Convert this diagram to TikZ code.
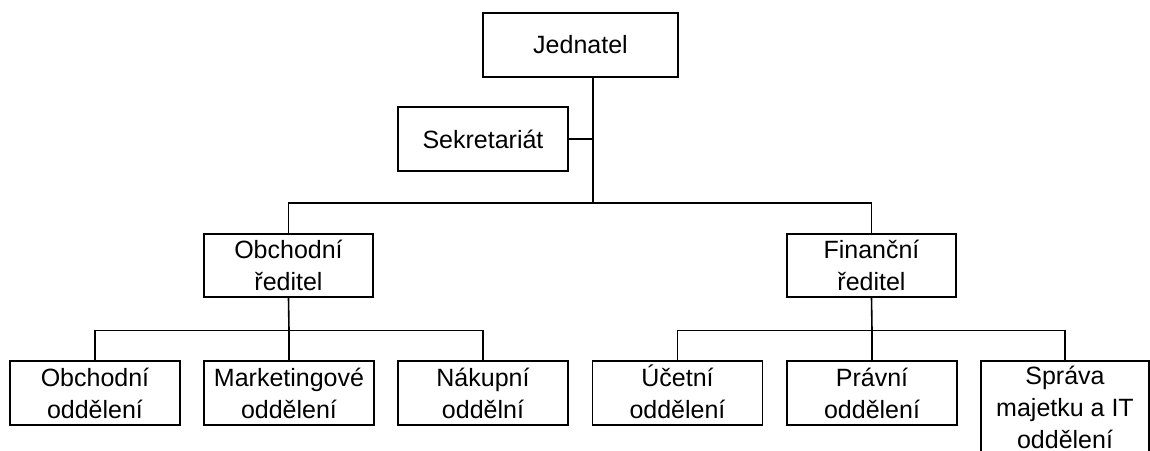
\documentclass[tikz,border=0pt]{standalone}
\usepackage{fontspec}
\setmainfont{Liberation Sans}
\begin{document}
\begin{tikzpicture}[x=1pt,y=-1pt,
  box/.style={draw=black, line width=1.6pt, rectangle, inner sep=0pt, align=center,
    font=\fontsize{25}{32}\selectfont, text=black},
  wbox/.style={box, minimum width=170pt, minimum height=64pt},
  conn/.style={draw=black, line width=1.6pt}]
\useasboundingbox (0,0) rectangle (1150,450);
\clip (0,0) rectangle (1150,450);
\fill[white] (0,0) rectangle (1150,450);
% top
\node[box, minimum width=195pt, minimum height=64pt] (J) at (580.5,45) {Jednatel};
\node[wbox] (S) at (483,139) {Sekretariát};
% directors
\node[box, minimum width=169pt, minimum height=63pt] (O) at (288.5,265.5) {Obchodní\\ředitel};
\node[box, minimum width=169pt, minimum height=63pt] (F) at (871.5,265.5) {Finanční\\ředitel};
% departments
\node[wbox] (d1) at (95,393) {Obchodní\\oddělení};
\node[wbox] (d2) at (289,393) {Marketingové\\oddělení};
\node[wbox] (d3) at (483,393) {Nákupní\\oddělní};
\node[wbox] (d4) at (677.5,393) {\smash{Ú}četní\\oddělení};
\node[wbox] (d5) at (872,393) {Právní\\oddělení};
\node[box, minimum width=168pt, minimum height=92pt] (d6) at (1065,407) {Správa\\majetku a IT\\oddělení};
% helper coordinates
\coordinate (trunk) at (593,203);
\coordinate (lbar) at (289,330.5);
\coordinate (rbar) at (872,330.5);
% connectors
\draw[conn] (J.south -| trunk) -- (trunk);
\draw[conn] (S.east) -- (S.east -| trunk);
\draw[conn] (O.north) -- (O.north |- trunk) -- (F.north |- trunk) -- (F.north);
\draw[conn] (O.south) -- (lbar);
\draw[conn] (F.south) -- (rbar);
\draw[conn] (d1.north) -- (d1.north |- lbar) -- (d3.north |- lbar) -- (d3.north);
\draw[conn] (d2.north) -- (d2.north |- lbar);
\draw[conn] (d4.north) -- (d4.north |- rbar) -- (d6.north |- rbar) -- (d6.north);
\draw[conn] (d5.north) -- (d5.north |- rbar);
\end{tikzpicture}
\end{document}
